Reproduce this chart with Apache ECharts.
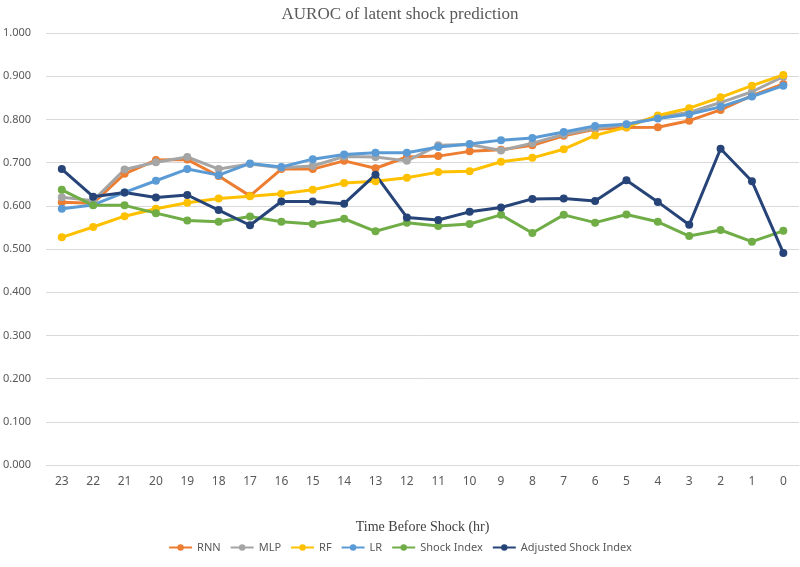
<!DOCTYPE html>
<html>
<head>
<meta charset="utf-8">
<script src="https://cdn.jsdelivr.net/npm/echarts@6/dist/echarts.min.js"></script>
<style>html,body{margin:0;padding:0;background:#fff}#c{width:800px;height:567px}</style>
</head>
<body>
<div id="c"></div>
<script>
const categories = ['23','22','21','20','19','18','17','16','15','14','13','12','11','10','9','8','7','6','5','4','3','2','1','0'];
const rnn = [0.608,0.606,0.674,0.706,0.707,0.669,0.623,0.685,0.685,0.704,0.687,0.713,0.715,0.726,0.730,0.740,0.762,0.777,0.781,0.782,0.797,0.822,0.855,0.882];
const mlp = [0.620,0.612,0.684,0.701,0.713,0.685,0.697,0.688,0.692,0.714,0.713,0.704,0.740,0.742,0.728,0.745,0.765,0.779,0.788,0.806,0.816,0.839,0.864,0.899];
const rf = [0.527,0.551,0.576,0.593,0.607,0.617,0.622,0.628,0.637,0.653,0.657,0.665,0.678,0.680,0.702,0.711,0.731,0.763,0.782,0.809,0.826,0.851,0.878,0.903];
const lr = [0.593,0.602,0.631,0.658,0.685,0.671,0.698,0.690,0.708,0.719,0.723,0.723,0.736,0.743,0.752,0.757,0.771,0.785,0.789,0.802,0.812,0.829,0.853,0.878];
const shockIndex = [0.637,0.601,0.601,0.583,0.566,0.563,0.575,0.563,0.558,0.570,0.541,0.561,0.553,0.558,0.579,0.537,0.579,0.561,0.580,0.563,0.530,0.544,0.517,0.542];
const adjShockIndex = [0.685,0.621,0.631,0.619,0.625,0.590,0.555,0.610,0.610,0.605,0.672,0.573,0.567,0.586,0.596,0.616,0.617,0.611,0.659,0.609,0.556,0.732,0.657,0.491];
const seriesNames = ['RNN','MLP','RF','LR','Shock Index','Adjusted Shock Index'];
const seriesData = [rnn, mlp, rf, lr, shockIndex, adjShockIndex];
const colors = ['#ED7D31','#A5A5A5','#FFC000','#5B9BD5','#70AD47','#264478'];

const chart = echarts.init(document.getElementById('c'), null, {renderer:'canvas'});
chart.setOption({
  animation: false,
  color: colors,
  title: {
    text: 'AUROC of latent shock prediction',
    left: 'center', top: 1,
    textStyle: {fontFamily: 'Liberation Serif', fontSize: 17, fontWeight: 'normal', color: '#595959'}
  },
  legend: {
    data: seriesNames,
    bottom: 9, left: 'center',
    itemWidth: 23, itemHeight: 8, itemGap: 9,
    textStyle: {fontFamily: 'Noto Sans', fontSize: 11, color: '#595959'}
  },
  grid: {left: 44, right: 1, top: 33, bottom: 102},
  xAxis: {
    type: 'category',
    data: categories,
    name: 'Time Before Shock (hr)',
    nameLocation: 'middle',
    nameGap: 55,
    nameTextStyle: {fontFamily: 'Liberation Serif', fontSize: 14, color: '#404040'},
    axisLine: {lineStyle: {color: '#D9D9D9'}},
    axisTick: {show: false},
    axisLabel: {fontFamily: 'Noto Sans', fontSize: 12, color: '#595959', margin: 11}
  },
  yAxis: {
    type: 'value',
    min: 0, max: 1, interval: 0.1,
    axisLine: {show: false},
    axisTick: {show: false},
    splitLine: {lineStyle: {color: '#D9D9D9', width: 1}},
    axisLabel: {fontFamily: 'Noto Sans', fontSize: 11, color: '#595959', margin: 15,
      formatter: v => v.toFixed(3)}
  },
  series: seriesNames.map((n, i) => ({
    name: n,
    type: 'line',
    data: seriesData[i],
    symbol: 'circle',
    symbolSize: 8,
    lineStyle: {width: 3, color: colors[i]},
    itemStyle: {color: colors[i]}
  }))
});
</script>
</body>
</html>
